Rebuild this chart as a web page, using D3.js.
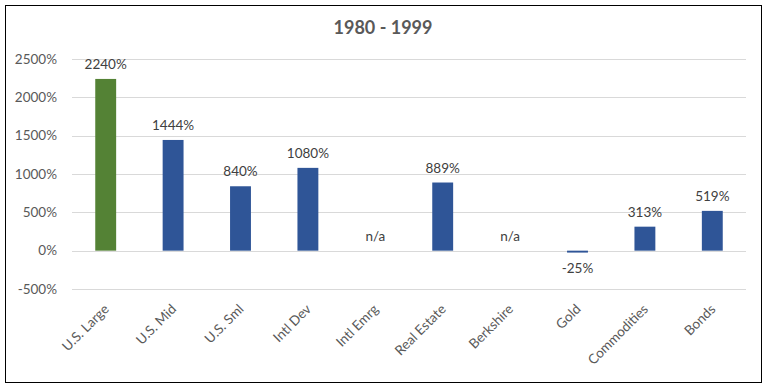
<!DOCTYPE html>
<html>
<head>
<meta charset="utf-8">
<script src="https://cdn.jsdelivr.net/npm/d3@7"></script>
<style>
  body { margin: 0; background: #fff; }
  text { font-family: Lato, "Open Sans", sans-serif; }
</style>
</head>
<body>
<div class="chart"></div>
<script>
// data
const categories = ["U.S. Large", "U.S. Mid", "U.S. Sml", "Intl Dev", "Intl Emrg",
  "Real Estate", "Berkshire", "Gold", "Commodities", "Bonds"];
const values = [2240, 1444, 840, 1080, null, 889, null, -25, 313, 519];
const yTicks = [-500, 0, 500, 1000, 1500, 2000, 2500];
const title = "1980 - 1999";

const W = 767, H = 389;
const margin = { left: 72, right: 21, top: 59, bottom: 100 };
const width = W - margin.left - margin.right;
const height = H - margin.top - margin.bottom;

const svg = d3.select(".chart").append("svg")
  .attr("width", W).attr("height", H);

// outer frame
svg.append("rect")
  .attr("x", 5.5).attr("y", 5.5)
  .attr("width", 756).attr("height", 377)
  .attr("fill", "#fff").attr("stroke", "#000").attr("stroke-width", 1);

svg.append("text")
  .attr("x", 383).attr("y", 34)
  .attr("text-anchor", "middle")
  .attr("font-size", 18).attr("font-weight", "bold")
  .attr("fill", "#595959")
  .text(title);

const g = svg.append("g").attr("transform", `translate(${margin.left},${margin.top})`);

const x = d3.scaleBand().domain(categories).range([0, width])
  .paddingInner(0.69).paddingOuter(0.345);
const y = d3.scaleLinear().domain([-500, 2500]).range([height, 0]);

// gridlines
g.selectAll(".grid").data(yTicks).enter().append("line")
  .attr("x1", 0).attr("x2", width)
  .attr("y1", d => Math.round(y(d)) + 0.5).attr("y2", d => Math.round(y(d)) + 0.5)
  .attr("stroke", "#d9d9d9").attr("stroke-width", 1);

// y axis labels
const yAxis = g.append("g").call(d3.axisLeft(y).tickValues(yTicks)
  .tickFormat(d => d + "%").tickSize(0).tickPadding(15));
yAxis.select(".domain").remove();
yAxis.selectAll("text").attr("font-size", 13.5).attr("fill", "#595959")
  .attr("font-family", "Lato, sans-serif");

// bars
g.selectAll(".bar").data(categories.map((c, i) => ({ c, v: values[i], i })).filter(d => d.v !== null))
  .enter().append("rect")
  .attr("x", d => x(d.c))
  .attr("width", x.bandwidth())
  .attr("y", d => y(Math.max(0, d.v)))
  .attr("height", d => Math.abs(y(d.v) - y(0)))
  .attr("fill", d => d.i === 0 ? "#548235" : "#2f5597");

// value labels
g.selectAll(".lbl").data(categories.map((c, i) => ({ c, v: values[i] })))
  .enter().append("text")
  .attr("x", d => x(d.c) + x.bandwidth() / 2)
  .attr("y", d => d.v === null ? y(0) - 10 : d.v < 0 ? y(d.v) + 20 : y(d.v) - 10)
  .attr("text-anchor", "middle")
  .attr("font-size", 13.5).attr("fill", "#404040")
  .text(d => d.v === null ? "n/a" : d.v + "%");

// x axis labels
const xAxis = g.append("g").attr("transform", `translate(0,${height})`)
  .call(d3.axisBottom(x).tickSize(0).tickPadding(0));
xAxis.select(".domain").remove();
xAxis.selectAll("text")
  .attr("font-size", 13.5).attr("fill", "#595959")
  .attr("font-family", "Lato, sans-serif")
  .style("text-anchor", "end")
  .attr("dy", 0)
  .attr("transform", "translate(4,21) rotate(-45)");
</script>
</body>
</html>
